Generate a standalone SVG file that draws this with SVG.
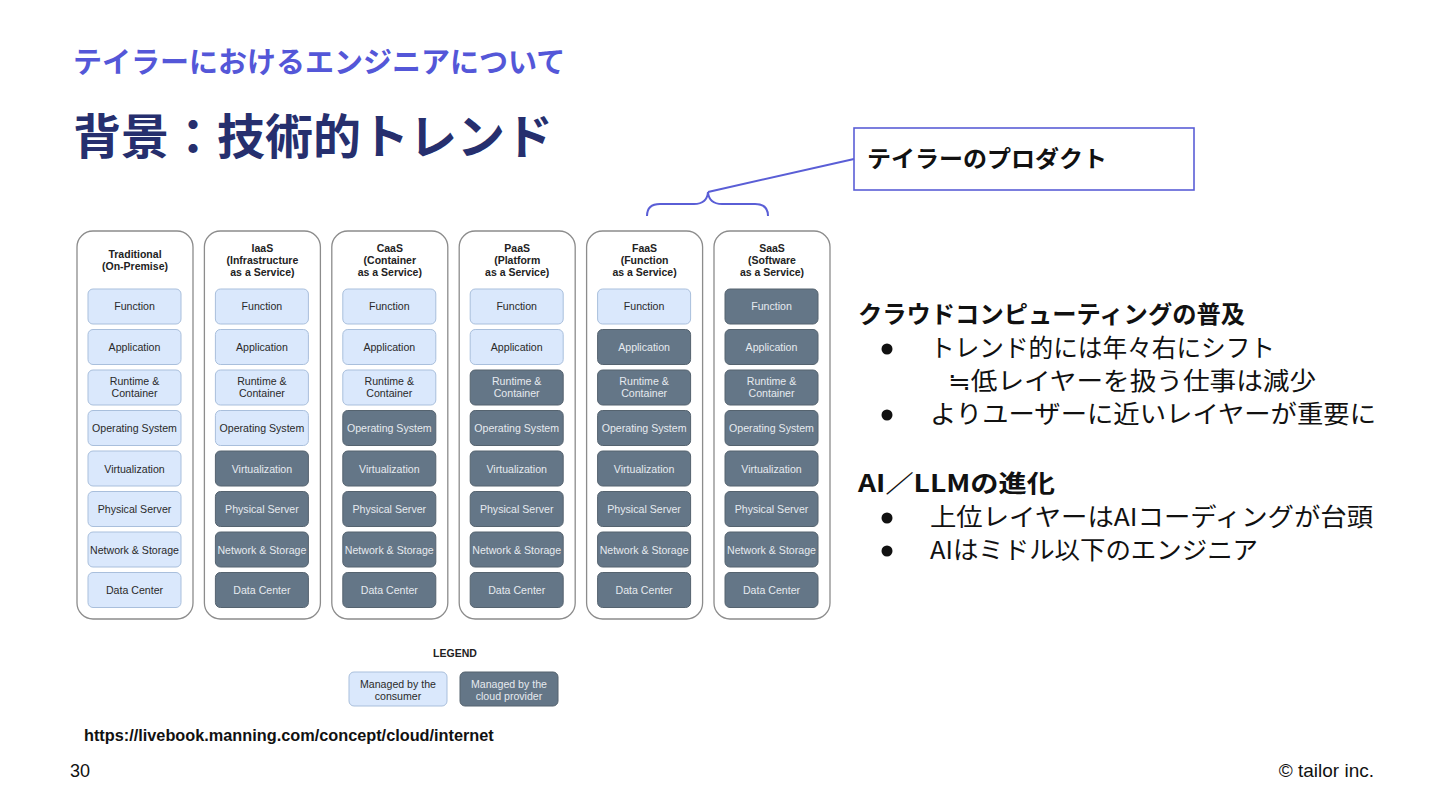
<svg xmlns="http://www.w3.org/2000/svg" width="1440" height="810" viewBox="0 0 1440 810">
<style>
.jp{font-family:"Noto Sans CJK JP","Noto Sans",sans-serif}
.lat{font-family:"Liberation Sans",Arial,sans-serif}
.col{fill:#fff;stroke:#8c8c8c;stroke-width:1.3}
.hd{font-family:"Liberation Sans",Arial,sans-serif;font-size:10.5px;font-weight:bold;fill:#222;text-anchor:middle}
.lt rect{fill:#dae8fc;stroke:#a9bfdc;stroke-width:1}
.dk rect{fill:#647687;stroke:#55636f;stroke-width:1}
.lt text,.dk text{font-family:"Liberation Sans",Arial,sans-serif;font-size:10.6px;text-anchor:middle}
.lt text{fill:#2a2a2a}
.dk text{fill:#e6eaef}
.body{font-family:"Noto Sans CJK JP","Noto Sans",sans-serif;font-size:24.5px;fill:#111}
.h2{font-family:"Noto Sans CJK JP","Noto Sans",sans-serif;font-size:24px;font-weight:bold;fill:#111}
.bul{fill:#111}
.conn{fill:none;stroke:#5a5ed6;stroke-width:2}
</style>
<rect width="1440" height="810" fill="#fff"/>

<g id="titles">
<text x="73" y="73" class="jp" font-size="29" font-weight="bold" fill="#5457d8">テイラーにおけるエンジニアについて</text>
<text x="73" y="154" class="jp" font-size="48" font-weight="bold" fill="#262f6e">背景：技術的トレンド</text>
</g>

<g id="callout">
<rect x="854" y="128" width="340" height="62" fill="#fff" stroke="#5a5ed6" stroke-width="1.6"/>
<text x="867" y="167" class="jp" font-size="23" font-weight="bold" fill="#111" textLength="240" lengthAdjust="spacingAndGlyphs">テイラーのプロダクト</text>
</g>

<g id="connectors">
<path class="conn" d="M647,216 Q647,204 660,204 L694,204 Q707,204 708,192 Q709,204 722,204 L755,204 Q768,204 768,216"/>
<path class="conn" d="M708,192 L854,159" stroke-width="1.6"/>
</g>

<!-- Column 1: Traditional -->
<g id="col-traditional">
<rect class="col" x="77" y="231" width="116" height="388" rx="16"/>
<text class="hd" x="135" y="258">Traditional</text>
<text class="hd" x="135" y="270">(On-Premise)</text>
<g class="lt"><rect x="88" y="289" width="93" height="35" rx="5"/><text x="134.5" y="310">Function</text></g>
<g class="lt"><rect x="88" y="329.5" width="93" height="35" rx="5"/><text x="134.5" y="351">Application</text></g>
<g class="lt"><rect x="88" y="370" width="93" height="35" rx="5"/><text x="134.5" y="385">Runtime &amp;</text><text x="134.5" y="397">Container</text></g>
<g class="lt"><rect x="88" y="410.5" width="93" height="35" rx="5"/><text x="134.5" y="432">Operating System</text></g>
<g class="lt"><rect x="88" y="451" width="93" height="35" rx="5"/><text x="134.5" y="472.5">Virtualization</text></g>
<g class="lt"><rect x="88" y="491.5" width="93" height="35" rx="5"/><text x="134.5" y="513">Physical Server</text></g>
<g class="lt"><rect x="88" y="532" width="93" height="35" rx="5"/><text x="134.5" y="553.5">Network &amp; Storage</text></g>
<g class="lt"><rect x="88" y="572.5" width="93" height="35" rx="5"/><text x="134.5" y="594">Data Center</text></g>
</g>

<!-- Column 2: IaaS -->
<g id="col-iaas">
<rect class="col" x="204.4" y="231" width="116" height="388" rx="16"/>
<text class="hd" x="262.4" y="252">IaaS</text>
<text class="hd" x="262.4" y="264">(Infrastructure</text>
<text class="hd" x="262.4" y="276">as a Service)</text>
<g class="lt"><rect x="215.4" y="289" width="93" height="35" rx="5"/><text x="261.9" y="310">Function</text></g>
<g class="lt"><rect x="215.4" y="329.5" width="93" height="35" rx="5"/><text x="261.9" y="351">Application</text></g>
<g class="lt"><rect x="215.4" y="370" width="93" height="35" rx="5"/><text x="261.9" y="385">Runtime &amp;</text><text x="261.9" y="397">Container</text></g>
<g class="lt"><rect x="215.4" y="410.5" width="93" height="35" rx="5"/><text x="261.9" y="432">Operating System</text></g>
<g class="dk"><rect x="215.4" y="451" width="93" height="35" rx="5"/><text x="261.9" y="472.5">Virtualization</text></g>
<g class="dk"><rect x="215.4" y="491.5" width="93" height="35" rx="5"/><text x="261.9" y="513">Physical Server</text></g>
<g class="dk"><rect x="215.4" y="532" width="93" height="35" rx="5"/><text x="261.9" y="553.5">Network &amp; Storage</text></g>
<g class="dk"><rect x="215.4" y="572.5" width="93" height="35" rx="5"/><text x="261.9" y="594">Data Center</text></g>
</g>

<!-- Column 3: CaaS -->
<g id="col-caas">
<rect class="col" x="331.8" y="231" width="116" height="388" rx="16"/>
<text class="hd" x="389.8" y="252">CaaS</text>
<text class="hd" x="389.8" y="264">(Container</text>
<text class="hd" x="389.8" y="276">as a Service)</text>
<g class="lt"><rect x="342.8" y="289" width="93" height="35" rx="5"/><text x="389.3" y="310">Function</text></g>
<g class="lt"><rect x="342.8" y="329.5" width="93" height="35" rx="5"/><text x="389.3" y="351">Application</text></g>
<g class="lt"><rect x="342.8" y="370" width="93" height="35" rx="5"/><text x="389.3" y="385">Runtime &amp;</text><text x="389.3" y="397">Container</text></g>
<g class="dk"><rect x="342.8" y="410.5" width="93" height="35" rx="5"/><text x="389.3" y="432">Operating System</text></g>
<g class="dk"><rect x="342.8" y="451" width="93" height="35" rx="5"/><text x="389.3" y="472.5">Virtualization</text></g>
<g class="dk"><rect x="342.8" y="491.5" width="93" height="35" rx="5"/><text x="389.3" y="513">Physical Server</text></g>
<g class="dk"><rect x="342.8" y="532" width="93" height="35" rx="5"/><text x="389.3" y="553.5">Network &amp; Storage</text></g>
<g class="dk"><rect x="342.8" y="572.5" width="93" height="35" rx="5"/><text x="389.3" y="594">Data Center</text></g>
</g>

<!-- Column 4: PaaS -->
<g id="col-paas">
<rect class="col" x="459.2" y="231" width="116" height="388" rx="16"/>
<text class="hd" x="517.2" y="252">PaaS</text>
<text class="hd" x="517.2" y="264">(Platform</text>
<text class="hd" x="517.2" y="276">as a Service)</text>
<g class="lt"><rect x="470.2" y="289" width="93" height="35" rx="5"/><text x="516.7" y="310">Function</text></g>
<g class="lt"><rect x="470.2" y="329.5" width="93" height="35" rx="5"/><text x="516.7" y="351">Application</text></g>
<g class="dk"><rect x="470.2" y="370" width="93" height="35" rx="5"/><text x="516.7" y="385">Runtime &amp;</text><text x="516.7" y="397">Container</text></g>
<g class="dk"><rect x="470.2" y="410.5" width="93" height="35" rx="5"/><text x="516.7" y="432">Operating System</text></g>
<g class="dk"><rect x="470.2" y="451" width="93" height="35" rx="5"/><text x="516.7" y="472.5">Virtualization</text></g>
<g class="dk"><rect x="470.2" y="491.5" width="93" height="35" rx="5"/><text x="516.7" y="513">Physical Server</text></g>
<g class="dk"><rect x="470.2" y="532" width="93" height="35" rx="5"/><text x="516.7" y="553.5">Network &amp; Storage</text></g>
<g class="dk"><rect x="470.2" y="572.5" width="93" height="35" rx="5"/><text x="516.7" y="594">Data Center</text></g>
</g>

<!-- Column 5: FaaS -->
<g id="col-faas">
<rect class="col" x="586.6" y="231" width="116" height="388" rx="16"/>
<text class="hd" x="644.6" y="252">FaaS</text>
<text class="hd" x="644.6" y="264">(Function</text>
<text class="hd" x="644.6" y="276">as a Service)</text>
<g class="lt"><rect x="597.6" y="289" width="93" height="35" rx="5"/><text x="644.1" y="310">Function</text></g>
<g class="dk"><rect x="597.6" y="329.5" width="93" height="35" rx="5"/><text x="644.1" y="351">Application</text></g>
<g class="dk"><rect x="597.6" y="370" width="93" height="35" rx="5"/><text x="644.1" y="385">Runtime &amp;</text><text x="644.1" y="397">Container</text></g>
<g class="dk"><rect x="597.6" y="410.5" width="93" height="35" rx="5"/><text x="644.1" y="432">Operating System</text></g>
<g class="dk"><rect x="597.6" y="451" width="93" height="35" rx="5"/><text x="644.1" y="472.5">Virtualization</text></g>
<g class="dk"><rect x="597.6" y="491.5" width="93" height="35" rx="5"/><text x="644.1" y="513">Physical Server</text></g>
<g class="dk"><rect x="597.6" y="532" width="93" height="35" rx="5"/><text x="644.1" y="553.5">Network &amp; Storage</text></g>
<g class="dk"><rect x="597.6" y="572.5" width="93" height="35" rx="5"/><text x="644.1" y="594">Data Center</text></g>
</g>

<!-- Column 6: SaaS -->
<g id="col-saas">
<rect class="col" x="714" y="231" width="116" height="388" rx="16"/>
<text class="hd" x="772" y="252">SaaS</text>
<text class="hd" x="772" y="264">(Software</text>
<text class="hd" x="772" y="276">as a Service)</text>
<g class="dk"><rect x="725" y="289" width="93" height="35" rx="5"/><text x="771.5" y="310">Function</text></g>
<g class="dk"><rect x="725" y="329.5" width="93" height="35" rx="5"/><text x="771.5" y="351">Application</text></g>
<g class="dk"><rect x="725" y="370" width="93" height="35" rx="5"/><text x="771.5" y="385">Runtime &amp;</text><text x="771.5" y="397">Container</text></g>
<g class="dk"><rect x="725" y="410.5" width="93" height="35" rx="5"/><text x="771.5" y="432">Operating System</text></g>
<g class="dk"><rect x="725" y="451" width="93" height="35" rx="5"/><text x="771.5" y="472.5">Virtualization</text></g>
<g class="dk"><rect x="725" y="491.5" width="93" height="35" rx="5"/><text x="771.5" y="513">Physical Server</text></g>
<g class="dk"><rect x="725" y="532" width="93" height="35" rx="5"/><text x="771.5" y="553.5">Network &amp; Storage</text></g>
<g class="dk"><rect x="725" y="572.5" width="93" height="35" rx="5"/><text x="771.5" y="594">Data Center</text></g>
</g>

<!-- Legend -->
<g id="legend">
<text class="hd" x="455" y="657">LEGEND</text>
<g class="lt"><rect x="349" y="672" width="98" height="34" rx="5"/><text x="398" y="688">Managed by the</text><text x="398" y="700">consumer</text></g>
<g class="dk"><rect x="460" y="672" width="98" height="34" rx="5"/><text x="509" y="688">Managed by the</text><text x="509" y="700">cloud provider</text></g>
</g>

<!-- Right text -->
<g id="notes">
<text class="h2" x="858" y="323" textLength="387" lengthAdjust="spacingAndGlyphs">クラウドコンピューティングの普及</text>
<circle class="bul" cx="887" cy="349" r="5.5"/>
<text class="body" x="930" y="357" textLength="345" lengthAdjust="spacingAndGlyphs">トレンド的には年々右にシフト</text>
<text class="body" x="948" y="390" textLength="368" lengthAdjust="spacingAndGlyphs">≒低レイヤーを扱う仕事は減少</text>
<circle class="bul" cx="887" cy="415" r="5.5"/>
<text class="body" x="930" y="423" textLength="446" lengthAdjust="spacingAndGlyphs">よりユーザーに近いレイヤーが重要に</text>
<text class="h2" x="858" y="492" textLength="197" lengthAdjust="spacingAndGlyphs">AI／LLMの進化</text>
<circle class="bul" cx="887" cy="518" r="5.5"/>
<text class="body" x="930" y="526" textLength="443" lengthAdjust="spacingAndGlyphs">上位レイヤーはAIコーディングが台頭</text>
<circle class="bul" cx="887" cy="551" r="5.5"/>
<text class="body" x="930" y="559" textLength="328" lengthAdjust="spacingAndGlyphs">AIはミドル以下のエンジニア</text>
</g>

<!-- Footer -->
<g id="footer">
<text class="lat" x="84" y="741" font-size="16.3" font-weight="bold" fill="#111">https://livebook.manning.com/concept/cloud/internet</text>
<text class="lat" x="70" y="777" font-size="18" fill="#111">30</text>
<text class="lat" x="1374" y="777" font-size="19" fill="#111" text-anchor="end">© tailor inc.</text>
</g>
</svg>
